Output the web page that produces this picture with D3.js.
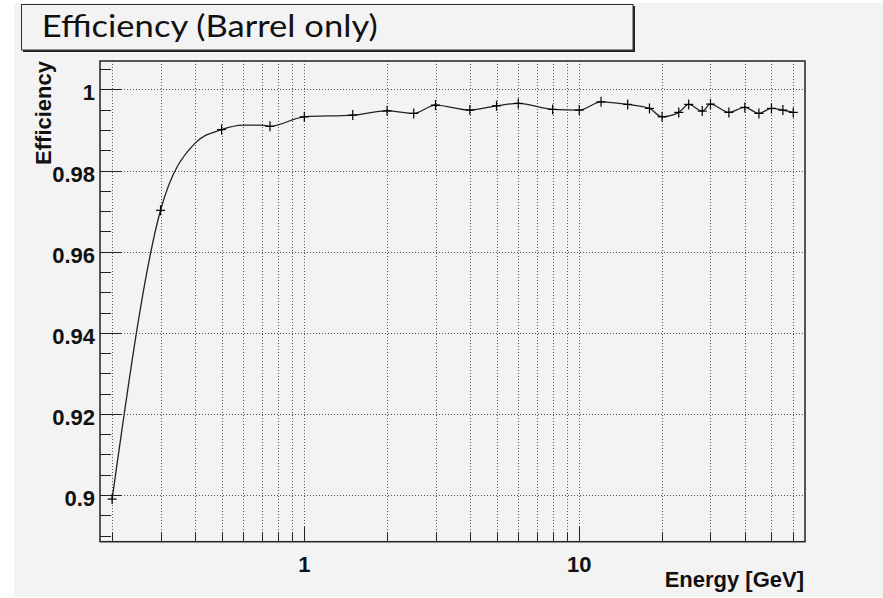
<!DOCTYPE html>
<html>
<head>
<meta charset="utf-8">
<script src="https://cdn.jsdelivr.net/npm/d3@7/dist/d3.min.js"></script>
<style>
  html, body { margin: 0; padding: 0; background: #ffffff; }
  svg { display: block; }
</style>
</head>
<body>
<script>
// ---- data ----
const energy = [0.2, 0.3, 0.4, 0.5, 0.6, 0.7, 0.75, 1, 1.5, 2, 2.5, 3, 4, 5, 6, 8, 10, 12, 15, 18, 20, 23, 25, 28, 30, 35, 40, 45, 50, 55, 60];
const efficiency = [0.8990, 0.9702, 0.9867, 0.9901, 0.9912, 0.9912, 0.9909, 0.99325, 0.99366, 0.99472, 0.99408, 0.99613, 0.9949, 0.99596, 0.99655, 0.99507, 0.9949, 0.99694, 0.9963, 0.99531, 0.99325, 0.99433, 0.9963, 0.99465, 0.99638, 0.99433, 0.99556, 0.99408, 0.99531, 0.9949, 0.99433];
const unmarkedEnergy = [0.4, 0.6, 0.7];

const xMajorTicks = [1, 10];
const xMajorLabels = ["1", "10"];
const xMinorTicks = [0.2, 0.3, 0.4, 0.5, 0.6, 0.7, 0.8, 0.9, 2, 3, 4, 5, 6, 7, 8, 9, 20, 30, 40, 50, 60];
const yMajorTicks = [0.9, 0.92, 0.94, 0.96, 0.98, 1];
const yMajorLabels = ["0.9", "0.92", "0.94", "0.96", "0.98", "1"];
const yMinorStep = 0.005;

const titleText = "Efficiency (Barrel only)";
const xTitle = "Energy [GeV]";
const yTitle = "Efficiency";

// ---- layout ----
const W = 883, H = 598;
const frame = { left: 100, top: 61, right: 805, bottom: 541.7 };
const bg = "#f3f3f3";
const axisFont = "'Liberation Sans', Arial, Helvetica, sans-serif";

const svg = d3.select("body").append("svg").attr("width", W).attr("height", H);

svg.append("rect").attr("x", 14).attr("y", 3).attr("width", W - 14).attr("height", 594).attr("fill", bg);

const x = d3.scaleLog().domain([0.1807, 66.2]).range([frame.left, frame.right]);
const y = d3.scaleLinear().domain([0.8885, 1.007]).range([frame.bottom, frame.top]);

// grid
const grid = svg.append("g").attr("stroke", "#555").attr("stroke-width", 1).attr("stroke-dasharray", "1,2");
xMinorTicks.concat(xMajorTicks).forEach(t => {
  grid.append("line").attr("x1", Math.round(x(t)) + 0.5).attr("x2", Math.round(x(t)) + 0.5)
    .attr("y1", frame.top).attr("y2", frame.bottom);
});
yMajorTicks.forEach(t => {
  grid.append("line").attr("y1", Math.round(y(t)) + 0.5).attr("y2", Math.round(y(t)) + 0.5)
    .attr("x1", frame.left).attr("x2", frame.right);
});

// ticks
const ticks = svg.append("g").attr("stroke", "#222").attr("stroke-width", 1);
xMinorTicks.forEach(t => {
  ticks.append("line").attr("x1", Math.round(x(t)) + 0.5).attr("x2", Math.round(x(t)) + 0.5)
    .attr("y1", frame.bottom).attr("y2", frame.bottom - 9);
});
xMajorTicks.forEach(t => {
  ticks.append("line").attr("x1", Math.round(x(t)) + 0.5).attr("x2", Math.round(x(t)) + 0.5)
    .attr("y1", frame.bottom).attr("y2", frame.bottom - 15);
});
const yMinor = d3.range(0.89, 1.0051, yMinorStep);
yMinor.forEach(t => {
  ticks.append("line").attr("y1", Math.round(y(t)) + 0.5).attr("y2", Math.round(y(t)) + 0.5)
    .attr("x1", frame.left).attr("x2", frame.left + 11);
});
yMajorTicks.forEach(t => {
  ticks.append("line").attr("y1", Math.round(y(t)) + 0.5).attr("y2", Math.round(y(t)) + 0.5)
    .attr("x1", frame.left).attr("x2", frame.left + 22);
});

// frame
svg.append("rect").attr("x", frame.left).attr("y", frame.top)
  .attr("width", frame.right - frame.left).attr("height", frame.bottom - frame.top)
  .attr("fill", "none").attr("stroke", "#222").attr("stroke-width", 1.5);

// tick labels
const lab = svg.append("g").attr("font-family", axisFont).attr("font-weight", "bold").attr("font-size", 22).attr("fill", "#111");
yMajorTicks.forEach((t, i) => {
  lab.append("text").attr("x", frame.left - 5).attr("y", y(t) + 11).attr("text-anchor", "end").text(yMajorLabels[i]);
});
xMajorTicks.forEach((t, i) => {
  lab.append("text").attr("x", x(t)).attr("y", 572).attr("text-anchor", "middle").text(xMajorLabels[i]);
});

// axis titles
lab.append("text").attr("x", 804).attr("y", 587).attr("text-anchor", "end").text(xTitle);
lab.append("text").attr("transform", `translate(51,${frame.top}) rotate(-90)`).attr("text-anchor", "end").text(yTitle);

// curve
const pts = energy.map((e, i) => [x(e), y(efficiency[i])]);
svg.append("path").attr("d", d3.line().curve(d3.curveMonotoneX)(pts))
  .attr("fill", "none").attr("stroke", "#222").attr("stroke-width", 1.3);

// markers
const mk = svg.append("g").attr("stroke", "#000").attr("stroke-width", 1.2);
energy.forEach((e, i) => {
  if (unmarkedEnergy.includes(e)) return;
  const px = x(e), py = y(efficiency[i]);
  mk.append("line").attr("x1", px - 4.5).attr("x2", px + 4.5).attr("y1", py).attr("y2", py);
  mk.append("line").attr("x1", px).attr("x2", px).attr("y1", py - 5).attr("y2", py + 5);
});

// title box
svg.append("rect").attr("x", 23).attr("y", 6).attr("width", 612).attr("height", 46).attr("fill", "#222");
svg.append("rect").attr("x", 21.5).attr("y", 4.5).attr("width", 611.5).attr("height", 45.5)
  .attr("fill", bg).attr("stroke", "#333").attr("stroke-width", 1);
svg.append("text").attr("x", 41.7).attr("y", 36.7)
  .attr("font-family", "Lato, 'Open Sans', sans-serif").attr("font-size", 30).attr("fill", "#111")
  .attr("textLength", 336).attr("lengthAdjust", "spacingAndGlyphs")
  .text(titleText);
</script>
</body>
</html>
